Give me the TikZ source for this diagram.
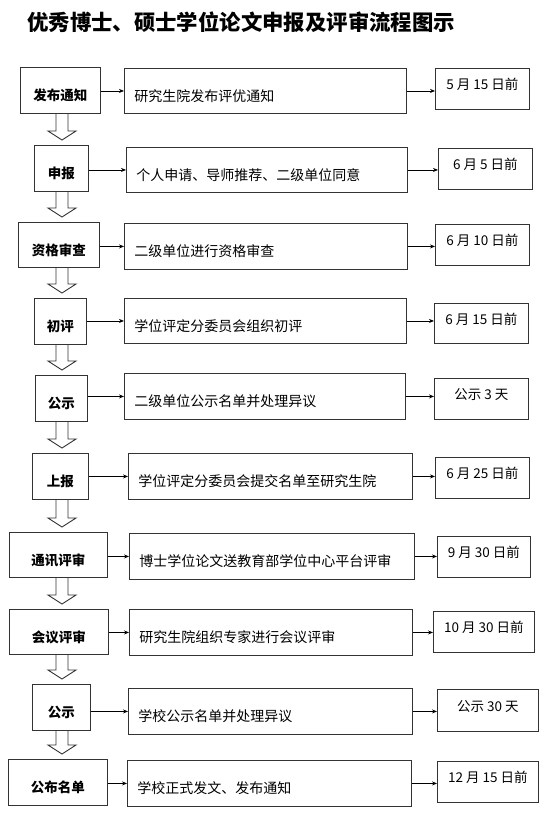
\documentclass[tikz,border=0pt]{standalone}
\usepackage{fontspec}
\setmainfont{Noto Sans CJK SC}
\usetikzlibrary{calc,arrows.meta}
\definecolor{boxc}{HTML}{333333}
\tikzset{
  box/.style={draw=boxc, line width=0.9pt, anchor=north west, inner ysep=0pt},
  lbox/.style={box, inner xsep=0pt, text height=20.5pt, text depth=0pt, font=\fontsize{13.5}{14}\selectfont\bfseries},
  mbox/.style={box, align=left, inner xsep=10pt, text height=20.5pt, text depth=0pt, font=\fontsize{14}{15}\selectfont},
  rbox/.style={box, inner xsep=0pt, text height=12pt, text depth=10.4pt, font=\fontsize{13.5}{14}\selectfont},
  conn/.style={line width=0.8pt, -{Stealth[length=5pt,width=4pt]}},
  hollow/.style={draw=boxc, line width=0.9pt, line join=miter}
}
\newcommand\hollowarr[2]{\draw[hollow] let \p1=(#1.south), \p2=(#2.north) in
  (56pt,\y1) -- (56pt,\y2+14pt) -- (48pt,\y2+14pt) -- (62pt,\y2+5pt) -- (76pt,\y2+14pt) -- (68pt,\y2+14pt) -- (68pt,\y1);}
\begin{document}
\begin{tikzpicture}[x=1pt,y=-1pt]
\useasboundingbox (0,0) rectangle (554,825);
\node[anchor=west, inner sep=0pt, font=\fontsize{21.4}{23}\selectfont\bfseries] (title) at (27,22) {优秀博士、硕士学位论文申报及评审流程图示};

% left column
\node[lbox, minimum width=80, minimum height=46] (L1) at (20,67) {发布通知};
\node[lbox, minimum width=54, minimum height=46] (L2) at (34,145) {申报};
\node[lbox, minimum width=81, minimum height=45] (L3) at (18,222) {资格审查};
\node[lbox, minimum width=52, minimum height=46] (L4) at (34,298) {初评};
\node[lbox, minimum width=52, minimum height=46] (L5) at (35,375) {公示};
\node[lbox, minimum width=56, minimum height=46] (L6) at (32,453) {上报};
\node[lbox, minimum width=98, minimum height=45] (L7) at (9,532) {通讯评审};
\node[lbox, minimum width=99, minimum height=45] (L8) at (9,609) {会议评审};
\node[lbox, minimum width=58, minimum height=46] (L9) at (32,684) {公示};
\node[lbox, minimum width=99, minimum height=46] (L10) at (8,759) {公布名单};

% middle column
\node[mbox, text width=262, minimum height=45] (M1) at (124,68) {研究生院发布评优通知};
\node[mbox, text width=261, minimum height=45] (M2) at (126,147) {个人申请、导师推荐、二级单位同意};
\node[mbox, text width=263, minimum height=46] (M3) at (124,223) {二级单位进行资格审查};
\node[mbox, text width=262, minimum height=45] (M4) at (124,298) {学位评定分委员会组织初评};
\node[mbox, text width=261, minimum height=46] (M5) at (124,373) {二级单位公示名单并处理异议};
\node[mbox, text width=264, minimum height=46] (M6) at (128,453) {学位评定分委员会提交名单至研究生院};
\node[mbox, text width=265, minimum height=46] (M7) at (129,533) {博士学位论文送教育部学位中心平台评审};
\node[mbox, text width=263, minimum height=46] (M8) at (129,609) {研究生院组织专家进行会议评审};
\node[mbox, text width=264, minimum height=46] (M9) at (128,688) {学校公示名单并处理异议};
\node[mbox, text width=264, minimum height=46] (M10) at (127,760) {学校正式发文、发布通知};

% right column
\node[rbox, minimum width=94, minimum height=41] (R1) at (435,68) {5 月 15 日前};
\node[rbox, minimum width=94, minimum height=41] (R2) at (438,148) {6 月 5 日前};
\node[rbox, minimum width=94, minimum height=41] (R3) at (435,224) {6 月 10 日前};
\node[rbox, minimum width=94, minimum height=40] (R4) at (434,303) {6 月 15 日前};
\node[rbox, minimum width=94, minimum height=41] (R5) at (434,378) {公示 3 天};
\node[rbox, minimum width=94, minimum height=41] (R6) at (435,457) {6 月 25 日前};
\node[rbox, minimum width=93, minimum height=41] (R7) at (437,536) {9 月 30 日前};
\node[rbox, minimum width=101, minimum height=41] (R8) at (433,611) {10 月 30 日前};
\node[rbox, minimum width=101, minimum height=42] (R9) at (437,689) {公示 30 天};
\node[rbox, minimum width=101, minimum height=41] (R10) at (437,761) {12 月 15 日前};

% horizontal connectors
\foreach \i in {1,...,10}{
  \draw[conn] (M\i.west -| L\i.east) -- (M\i.west);
  \draw[conn] (M\i.east) -- (M\i.east -| R\i.west);
}

% hollow down arrows
\hollowarr{L1}{L2}
\hollowarr{L2}{L3}
\hollowarr{L3}{L4}
\hollowarr{L4}{L5}
\hollowarr{L5}{L6}
\hollowarr{L6}{L7}
\hollowarr{L7}{L8}
\hollowarr{L8}{L9}
\hollowarr{L9}{L10}
\end{tikzpicture}
\end{document}
